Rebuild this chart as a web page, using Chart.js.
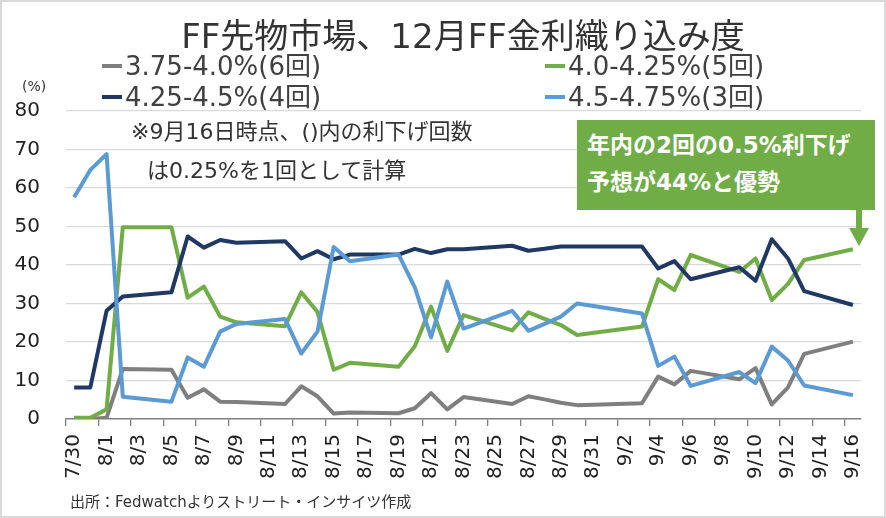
<!DOCTYPE html>
<html lang="ja">
<head>
<meta charset="utf-8">
<script src="https://cdn.jsdelivr.net/npm/chart.js@4.4.1/dist/chart.umd.min.js"></script>
<style>
  body { margin: 0; background: #fff; }
  #wrap { position: relative; width: 886px; height: 518px; font-family: 'DejaVu Sans', 'Noto Sans CJK JP', sans-serif; color: #333; }
  #chart { position: absolute; left: 0; top: 0; }
  .txt { position: absolute; white-space: nowrap; line-height: 1; transform: translateY(-50%); }
  .frame { position: absolute; left: 0; top: 0; width: 882px; height: 514px; border: 2px solid #d9d9d9; pointer-events: none; }
  .leg { position: absolute; white-space: nowrap; line-height: 1; transform: translateY(-50%); font-size: 26px; color: #404040; }
  .leg i { display: inline-block; width: 20px; height: 4px; margin-right: 3px; vertical-align: middle; position: relative; top: -2px; }
  .note-box { position: absolute; left: 577px; top: 120px; width: 298px; height: 90px; background: #70ad47; }
  .note-box .txt { color: #fff; font-weight: bold; font-size: 23px; left: 10px; }
  .shaft { position: absolute; left: 856px; top: 209px; width: 6px; height: 21px; background: #70ad47; }
  .head { position: absolute; left: 849px; top: 228px; width: 0; height: 0; border-left: 10px solid transparent; border-right: 10px solid transparent; border-top: 18px solid #70ad47; }
</style>
</head>
<body>
<div id="wrap">
  <canvas id="chart" width="886" height="518"></canvas>
  <div class="txt" style="left:463px;top:36px;font-size:34px;transform:translate(-50%,-50%);">FF先物市場、12月FF金利織り込み度</div>
  <div id="legend"></div>
  <div class="txt" style="left:22px;top:86px;font-size:14px;">(%)</div>
  <div class="txt" style="left:131px;top:132px;font-size:22px;">※9月16日時点、()内の利下げ回数</div>
  <div class="txt" style="left:147px;top:171px;font-size:22px;">は0.25%を1回として計算</div>
  <div class="note-box">
    <div class="txt" style="top:25px;">年内の2回の0.5%利下げ</div>
    <div class="txt" style="top:62px;">予想が44%と優勢</div>
  </div>
  <div class="shaft"></div>
  <div class="head"></div>
  <div class="txt" style="left:70px;top:502px;font-size:15px;">出所：Fedwatchよりストリート・インサイツ作成</div>
  <div class="frame"></div>
</div>
<script>
const FONT = "'DejaVu Sans', 'Noto Sans CJK JP', sans-serif";

// every calendar day 7/30 - 9/16, weekends / holidays are null
const dates = [
    '7/30', '7/31', '8/1', '8/2', '8/3', '8/4',
    '8/5', '8/6', '8/7', '8/8', '8/9', '8/10', '8/11',
    '8/12', '8/13', '8/14', '8/15', '8/16', '8/17', '8/18',
    '8/19', '8/20', '8/21', '8/22', '8/23', '8/24', '8/25',
    '8/26', '8/27', '8/28', '8/29', '8/30', '8/31', '9/1',
    '9/2', '9/3', '9/4', '9/5', '9/6', '9/7', '9/8',
    '9/9', '9/10', '9/11', '9/12', '9/13', '9/14', '9/15',
    '9/16'
];

const rate375 = [
    0, 0, 0.3, 13.0, null, null,
    12.8, 5.5, 7.7, 4.5, 4.4, null, null,
    3.9, 8.5, 5.9, 1.4, 1.7, null, null,
    1.5, 2.8, 6.7, 2.5, 5.7, null, null,
    3.9, 5.9, 5.1, 4.2, 3.6, null, null,
    null, 4.1, 11.0, 9.0, 12.5, null, null,
    10.3, 13.2, 3.8, 8.2, 16.9, null, null,
    20.1
];
const rate400 = [
    0.3, 0.3, 2.5, 49.8, null, null,
    49.8, 31.5, 34.4, 26.6, 25.1, null, null,
    24.1, 32.9, 27.8, 12.8, 14.6, null, null,
    13.6, 18.9, 29.2, 17.7, 27.0, null, null,
    23.0, 27.7, 26.0, 24.4, 21.8, null, null,
    null, 24.0, 36.3, 33.5, 42.6, null, null,
    38.2, 41.7, 30.9, 35.1, 41.3, null, null,
    44.1
];
const rate425 = [
    8.2, 8.2, 28.1, 31.8, null, null,
    32.9, 47.4, 44.5, 46.5, 45.8, null, null,
    46.2, 41.7, 43.6, 41.5, 42.7, null, null,
    42.7, 44.2, 43.1, 44.1, 44.1, null, null,
    45.0, 43.7, 44.2, 44.8, 44.8, null, null,
    null, 44.8, 39.1, 41.0, 36.3, null, null,
    39.4, 35.9, 46.7, 41.7, 33.2, null, null,
    29.6
];
const rate450 = [
    57.6, 64.7, 68.8, 5.8, null, null,
    4.5, 16.0, 13.6, 22.7, 24.7, null, null,
    26.0, 17.0, 22.7, 44.7, 41.0, null, null,
    42.7, 34.2, 21.2, 35.7, 23.5, null, null,
    28.1, 22.9, 24.7, 26.6, 30.0, null, null,
    null, 27.4, 13.8, 16.2, 8.6, null, null,
    12.2, 9.3, 18.8, 15.2, 8.7, null, null,
    6.2
];

const seriesLabels = ['3.75-4.0%(6回)', '4.0-4.25%(5回)', '4.25-4.5%(4回)', '4.5-4.75%(3回)'];
const seriesColors = ['#7f7f7f', '#70ad47', '#1f3864', '#5b9bd5'];
const seriesData = [rate375, rate400, rate425, rate450];

// legend, two columns like the original
const legendPos = [[102, 66], [545, 66], [102, 97], [545, 97]];
const legendEl = document.getElementById('legend');
seriesLabels.forEach((label, i) => {
    const d = document.createElement('div');
    d.className = 'leg';
    d.style.left = legendPos[i][0] + 'px';
    d.style.top = legendPos[i][1] + 'px';
    d.innerHTML = `<i style="background:${seriesColors[i]}"></i>${label}`;
    legendEl.appendChild(d);
});

const ctx = document.getElementById('chart').getContext('2d');
new Chart(ctx, {
    type: 'line',
    data: {
        labels: dates,
        datasets: seriesLabels.map((label, i) => ({
            label: label,
            data: seriesData[i],
            borderColor: seriesColors[i],
            backgroundColor: seriesColors[i],
            order: seriesLabels.length - i
        }))
    },
    options: {
        responsive: false,
        animation: false,
        spanGaps: true,
        layout: { padding: { top: 111, right: 25, left: 0, bottom: 0 } },
        elements: {
            point: { radius: 0 },
            line: { borderWidth: 4, tension: 0, borderJoinStyle: 'round' }
        },
        plugins: {
            legend: { display: false },
            tooltip: { enabled: false }
        },
        scales: {
            x: {
                offset: true,
                grid: {
                    offset: true,
                    drawOnChartArea: false,
                    tickLength: 7,
                    lineWidth: 1.3,
                    color: c => (c.index % 2 === 0 ? '#7f7f7f' : 'rgba(0,0,0,0)')
                },
                border: { display: true, color: '#7f7f7f', width: 1.5 },
                ticks: {
                    autoSkip: false,
                    minRotation: 90,
                    maxRotation: 90,
                    padding: 8,
                    color: '#222',
                    font: { family: FONT, size: 20 },
                    callback: (v, i) => (i % 2 === 0 ? dates[i] : '')
                },
                afterFit: s => { s.height = 99; }
            },
            y: {
                min: 0,
                max: 80,
                ticks: {
                    stepSize: 10,
                    padding: 26,
                    color: '#222',
                    font: { family: FONT, size: 20 }
                },
                grid: {
                    drawTicks: false,
                    lineWidth: 1.3,
                    color: c => (c.tick && c.tick.value === 0 ? 'rgba(0,0,0,0)' : '#d9d9d9')
                },
                border: { display: false },
                afterFit: s => { s.width = 66; }
            }
        }
    }
});
</script>
</body>
</html>
